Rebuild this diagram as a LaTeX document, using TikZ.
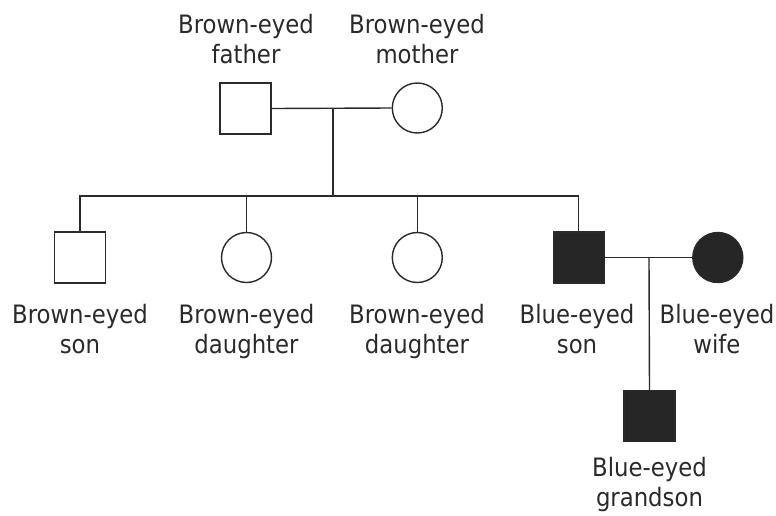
\documentclass[tikz,border=0pt]{standalone}
\usepackage{fontspec}
\setmainfont{DejaVu Sans Condensed}
\begin{document}
\begin{tikzpicture}[x=0.75pt,y=-0.75pt,
  ink/.style={draw={rgb,255:red,42;green,42;blue,42}, line width=1.05pt},
  male/.style={ink, rectangle, minimum size=38.25pt, inner sep=0pt, fill=white},
  female/.style={ink, circle, minimum size=37.5pt, inner sep=0pt, fill=white},
  affected/.style={fill={rgb,255:red,38;green,38;blue,38}},
  lbl/.style={anchor=base, align=center, inner sep=0pt,
    text={rgb,255:red,42;green,42;blue,42},
    font=\fontsize{19pt}{22.5pt}\selectfont},
  link/.style={ink}]
\useasboundingbox (0,0) rectangle (776,515);

% first generation (labels anchored at the baseline of their last line)
\node[male]   (father) at (245.5,108.5) {};
\node[female] (mother) at (417.3,108) {};
\node[lbl] (lfather) at (246,63) {Brown-eyed\\father};
\node[lbl] (lmother) at (417,63) {Brown-eyed\\mother};

% second generation
\node[male]            (son)  at (80,257.5) {};
\node[female]          (dau1) at (246.5,257.5) {};
\node[female]          (dau2) at (417.3,257.5) {};
\node[male,affected]   (bson) at (578.7,257.5) {};
\node[female,affected] (wife) at (717.8,257.5) {};
\node[lbl] (lson)  at (80,353)    {Brown-eyed\\son};
\node[lbl] (ldau1) at (246.5,353) {Brown-eyed\\daughter};
\node[lbl] (ldau2) at (417,353)   {Brown-eyed\\daughter};
\node[lbl] (lbson) at (577,353)   {Blue-eyed\\son};
\node[lbl] (lwife) at (717,353)   {Blue-eyed\\wife};

% third generation
\node[male,affected] (gson) at (649.5,416) {};
\node[lbl] (lgson) at (649.5,506.7) {Blue-eyed\\grandson};

% marriage and descent lines
\coordinate (m1) at (333,108);
\coordinate (sib) at (333,196);
\coordinate (m2) at (649,258);
\draw[link] (father.east) -- (mother.west);
\draw[link] (m1) -- (sib);
\draw[link] (son.north) -- (son.north |- sib) -- (bson.north |- sib) -- (bson.north);
\draw[link] (dau1.north) -- (dau1.north |- sib);
\draw[link] (dau2.north) -- (dau2.north |- sib);
\draw[link] (bson.east) -- (wife.west);
\draw[link] (m2) -- (gson.north);
\end{tikzpicture}
\end{document}
